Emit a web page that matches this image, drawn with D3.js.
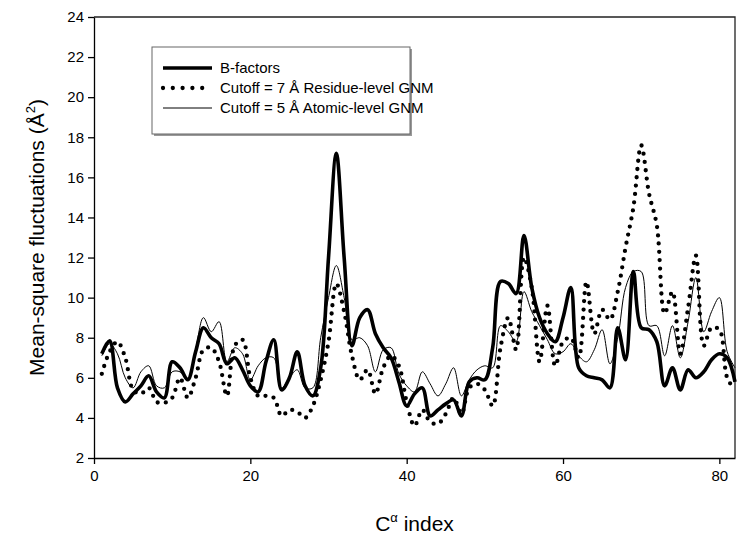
<!DOCTYPE html>
<html>
<head>
<meta charset="utf-8">
<script src="https://cdn.jsdelivr.net/npm/d3@7"></script>
<style>
  body { margin: 0; background: #fff; }
  text { font-family: "Liberation Sans", Arial, sans-serif; }
  .axis path, .axis line { stroke: #000; stroke-width: 1.3; }
  .axis text { font-size: 15px; fill: #000; }
</style>
</head>
<body>
<svg id="chart" width="750" height="541"></svg>
<script>
// residue index 1..82
var residues = d3.range(1, 83);

var bFactors = [
  7.2, 7.85, 5.5, 4.8, 5.2, 5.6, 6.1, 5.3, 5.0, 6.8,
  6.5, 5.9, 7.3, 8.5, 8.0, 7.7, 6.7, 7.0, 6.4, 5.6,
  5.3, 6.8, 7.9, 5.4, 6.0, 7.3, 5.6, 5.1, 6.5, 12.0,
  17.2, 12.0, 7.6, 9.0, 9.4, 8.2, 7.5, 7.0, 5.8, 4.6,
  5.2, 5.5, 4.1, 4.4, 4.7, 4.9, 4.1, 5.8, 6.0, 5.9,
  7.5, 10.8, 10.7, 10.2, 13.1, 10.5, 9.0, 8.2, 7.8, 9.0,
  10.5, 6.5, 6.1, 6.0, 5.9, 5.5, 8.5, 6.9, 11.3, 8.5,
  8.4, 7.8, 5.6, 6.5, 5.4, 6.4, 6.0, 6.3, 6.9, 7.2,
  7.0, 5.8
];

var residueGNM = [
  6.2, 7.3, 7.8, 7.0, 5.4, 5.2, 5.5, 4.8, 4.75, 5.0,
  6.0, 5.0, 6.0, 7.4, 7.5, 6.8, 5.1, 7.6, 7.9, 6.0,
  5.1, 5.1, 5.0, 4.1, 4.4, 4.3, 4.0, 4.6, 5.9, 7.8,
  10.7, 9.3, 7.1, 5.9, 6.4, 5.2, 6.5, 7.1, 6.6, 4.8,
  3.6, 4.4, 3.8, 3.7, 4.2, 5.0, 4.2, 5.5, 5.7, 5.4,
  4.6, 7.5, 9.0, 7.4, 12.0, 10.5, 6.8, 9.6, 6.6, 7.8,
  8.0, 7.0, 10.8, 8.2, 9.4, 8.9, 10.3, 12.5, 14.5, 17.6,
  15.2, 13.6, 9.2, 10.3, 7.2, 9.5, 12.1, 7.6, 8.5, 8.4,
  6.0, 5.4
];

var atomicGNM = [
  7.1, 7.7, 7.2, 6.0, 5.5, 6.3, 6.6, 5.6, 5.5, 6.3,
  6.3, 5.9, 7.4, 9.0, 8.3, 8.8, 6.8, 7.5, 7.2, 5.9,
  6.6, 7.0, 7.0, 5.5, 6.0, 6.4, 5.5, 5.5, 8.0, 10.0,
  11.6, 10.0, 7.9, 8.0, 7.6, 6.3, 7.4, 7.5, 6.2, 5.6,
  5.3, 6.3, 5.7, 5.1, 5.7, 6.5, 5.1, 5.9, 6.4, 6.6,
  6.5, 8.6, 8.3, 7.8, 10.3, 9.3, 8.6, 7.9, 7.2, 7.3,
  7.7, 7.1, 6.8, 7.4, 8.4, 6.7, 8.0, 10.5, 11.3, 11.3,
  8.6, 8.6, 7.1, 8.6, 7.0, 8.8, 11.0, 8.3, 9.3, 10.0,
  7.3, 6.5
];

var xTicks = [0, 20, 40, 60, 80],
    yTicks = [2, 4, 6, 8, 10, 12, 14, 16, 18, 20, 22, 24];

var legendLabels = [
  "B-factors",
  "Cutoff = 7 \u00c5 Residue-level GNM",
  "Cutoff = 5 \u00c5 Atomic-level GNM"
];

var svg = d3.select("#chart"),
    margin = {top: 17, right: 15, bottom: 83, left: 94},
    width = +svg.attr("width") - margin.left - margin.right,
    height = +svg.attr("height") - margin.top - margin.bottom;

var x = d3.scaleLinear().domain([0, 82]).range([0, width]),
    y = d3.scaleLinear().domain([2, 24]).range([height, 0]);

var g = svg.append("g")
    .attr("transform", "translate(" + margin.left + "," + margin.top + ")");

// frame (top and right)
g.append("path")
    .attr("d", "M0,0H" + width + "V" + height)
    .attr("fill", "none")
    .attr("stroke", "#222")
    .attr("stroke-width", 1.3);

g.append("g")
    .attr("class", "axis")
    .attr("transform", "translate(0," + height + ")")
    .call(d3.axisBottom(x).tickValues(xTicks).tickSize(6).tickSizeOuter(0).tickPadding(6));

g.append("g")
    .attr("class", "axis")
    .call(d3.axisLeft(y).tickValues(yTicks).tickSize(6).tickSizeOuter(0).tickPadding(4));

var series = [
  {values: bFactors, width: 3.6, dash: null, legendDash: null, cap: "butt"},
  {values: residueGNM, width: 4.3, dash: "0 8.3", legendDash: "0 9.8", cap: "round"},
  {values: atomicGNM, width: 1, dash: null, legendDash: null, cap: "butt"}
];

var line = d3.line()
    .curve(d3.curveCatmullRom.alpha(0.5))
    .x(function(d, i) { return x(residues[i]); })
    .y(function(d) { return y(d); });

g.selectAll(".series")
  .data(series)
  .enter().append("path")
    .attr("class", "series")
    .attr("d", function(s) { return line(s.values); })
    .attr("fill", "none")
    .attr("stroke", "#000")
    .attr("stroke-width", function(s) { return s.width; })
    .attr("stroke-dasharray", function(s) { return s.dash; })
    .attr("stroke-linecap", function(s) { return s.cap; })
    .attr("stroke-linejoin", "round");

// legend
var legend = svg.append("g").attr("transform", "translate(152,47)");

legend.append("rect")
    .attr("x", 2).attr("y", 2)
    .attr("width", 258).attr("height", 87)
    .attr("fill", "#999");
legend.append("rect")
    .attr("width", 258).attr("height", 87)
    .attr("fill", "#fff")
    .attr("stroke", "#666")
    .attr("stroke-width", 1);

var item = legend.selectAll(".item")
  .data(series)
  .enter().append("g")
    .attr("class", "item")
    .attr("transform", function(d, i) { return "translate(0," + (21 + i * 20) + ")"; });

item.append("line")
    .attr("x1", 11).attr("x2", 60)
    .attr("stroke", "#000")
    .attr("stroke-width", function(s) { return s.width; })
    .attr("stroke-dasharray", function(s) { return s.legendDash; })
    .attr("stroke-linecap", function(s) { return s.cap; });

item.append("text")
    .attr("x", 68)
    .attr("dy", "0.35em")
    .style("font-size", "15px")
    .text(function(d, i) { return legendLabels[i]; });

// axis titles
var yTitle = svg.append("text")
    .attr("transform", "translate(44," + (margin.top + height / 2) + ") rotate(-90)")
    .attr("text-anchor", "middle")
    .style("font-size", "21px");
yTitle.append("tspan").text("Mean-square fluctuations (\u00c5");
yTitle.append("tspan").attr("dy", -9).style("font-size", "13px").text("2");
yTitle.append("tspan").attr("dy", 9).text(")");

var xTitle = svg.append("text")
    .attr("x", margin.left + width / 2)
    .attr("y", 531)
    .attr("text-anchor", "middle")
    .style("font-size", "21px");
xTitle.append("tspan").text("C");
xTitle.append("tspan").attr("dy", -9).style("font-size", "13px").text("\u03b1");
xTitle.append("tspan").attr("dy", 9).text(" index");
</script>
</body>
</html>
